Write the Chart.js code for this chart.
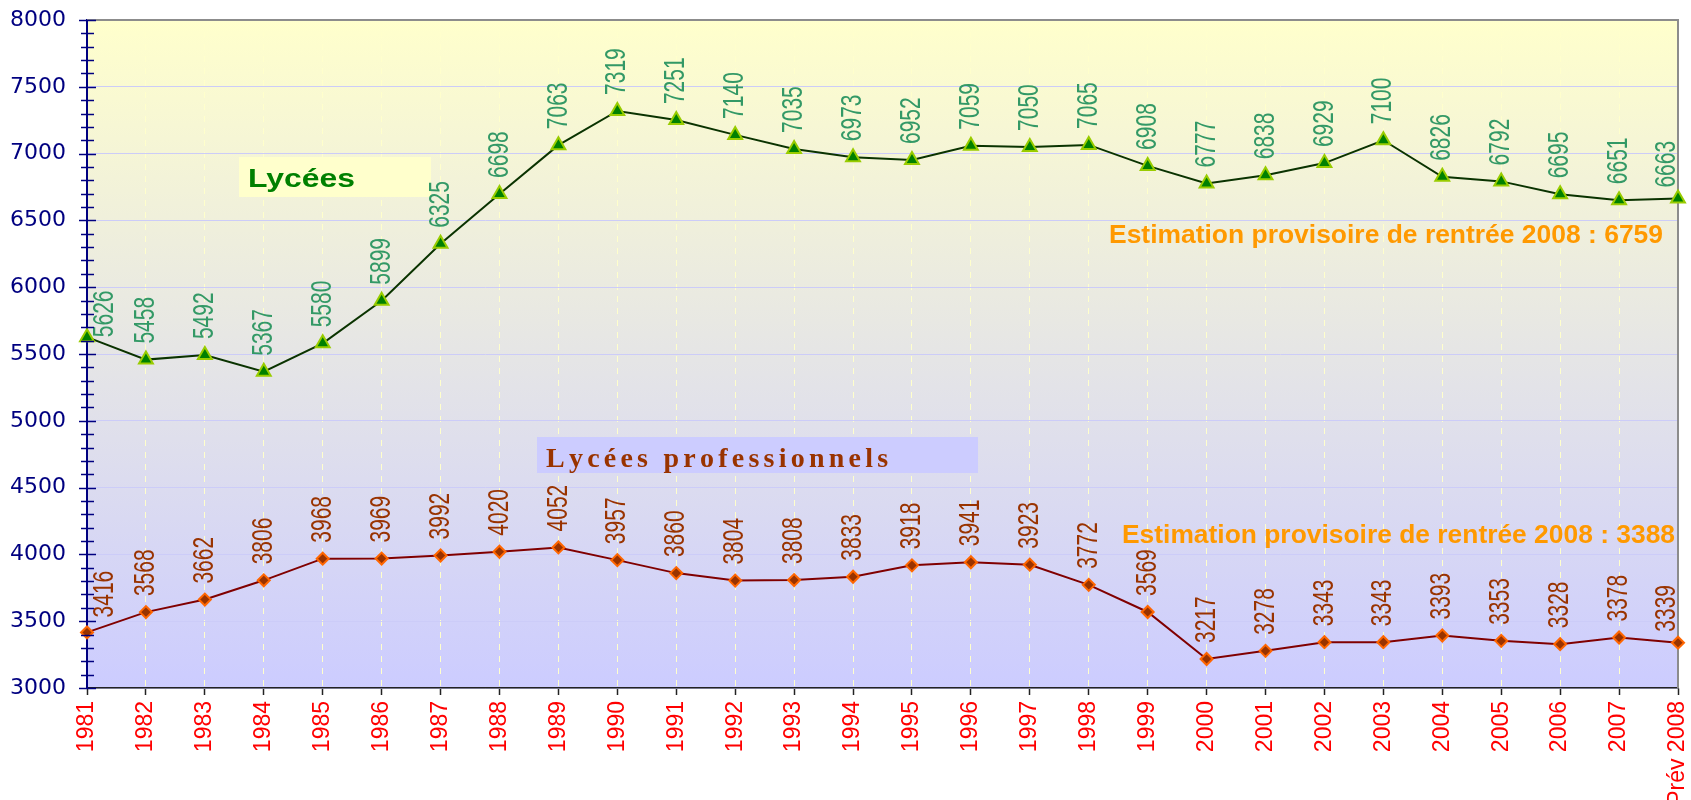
<!DOCTYPE html>
<html>
<head>
<meta charset="utf-8">
<script src="https://cdn.jsdelivr.net/npm/chart.js@4.4.1/dist/chart.umd.min.js"></script>
<style>
    html, body { margin: 0; padding: 0; background: #fff; }
    canvas { display: block; }
</style>
</head>
<body>
<canvas id="effectifs" width="1691" height="800"></canvas>
<script>
// Effectifs lycées / lycées professionnels 1981 - 2008

const years = ['1981', '1982', '1983', '1984', '1985', '1986', '1987', '1988', '1989', '1990',
    '1991', '1992', '1993', '1994', '1995', '1996', '1997', '1998', '1999', '2000',
    '2001', '2002', '2003', '2004', '2005', '2006', '2007', 'Prév 2008'];

const lycees = [5626, 5458, 5492, 5367, 5580, 5899, 6325, 6698, 7063, 7319,
    7251, 7140, 7035, 6973, 6952, 7059, 7050, 7065, 6908, 6777,
    6838, 6929, 7100, 6826, 6792, 6695, 6651, 6663];

const lyceesPro = [3416, 3568, 3662, 3806, 3968, 3969, 3992, 4020, 4052, 3957,
    3860, 3804, 3808, 3833, 3918, 3941, 3923, 3772, 3569, 3217,
    3278, 3343, 3343, 3393, 3353, 3328, 3378, 3339];

const yTicks = [3000, 3500, 4000, 4500, 5000, 5500, 6000, 6500, 7000, 7500, 8000];

const estimLycees = 'Estimation provisoire de rentrée 2008 : 6759';
const estimPro = 'Estimation provisoire de rentrée 2008 : 3388';

// draw text squeezed/stretched to a given width
function fitText(ctx, text, x, y, width) {
    const w = ctx.measureText(text).width;
    ctx.save();
    ctx.translate(x, y);
    ctx.scale(width / w, 1);
    ctx.fillText(text, 0, 0);
    ctx.restore();
}

// spaced letters (Excel text box look)
function spacedText(ctx, text, x, y, width) {
    const natural = ctx.measureText(text).width;
    const extra = (width - natural) / (text.length - 1);
    let cx = x;
    for (const ch of text) {
        ctx.fillText(ch, cx, y);
        cx += ctx.measureText(ch).width + extra;
    }
}

// Plot background gradient
const backgroundPlugin = {
    id: 'plotBackground',
    beforeDraw(chart) {
        const { ctx, chartArea: a } = chart;
        const g = ctx.createLinearGradient(0, a.top, 0, a.bottom);
        g.addColorStop(0, '#FFFFCC');
        g.addColorStop(1, '#CCCCFF');
        ctx.save();
        ctx.fillStyle = g;
        ctx.fillRect(a.left, a.top, a.right - a.left, a.bottom - a.top);
        ctx.restore();
    }
};

// Text boxes, estimations and frame
const annotationsPlugin = {
    id: 'annotations',
    beforeDatasetsDraw(chart) {
        const { ctx, chartArea: a } = chart;
        ctx.save();

        // frame top/right
        ctx.strokeStyle = '#8C8C8C';
        ctx.lineWidth = 2;
        ctx.beginPath();
        ctx.moveTo(a.left, a.top);
        ctx.lineTo(a.right, a.top);
        ctx.lineTo(a.right, a.bottom);
        ctx.stroke();

        ctx.textBaseline = 'alphabetic';
        ctx.textAlign = 'left';

        // Lycées box
        ctx.fillStyle = '#FFFFCC';
        ctx.fillRect(239, 157, 192, 40);
        ctx.fillStyle = '#008000';
        ctx.font = 'bold 26px Arial, "Liberation Sans", sans-serif';
        fitText(ctx, 'Lycées', 248, 187, 107);

        // Lycées professionnels box
        ctx.fillStyle = '#CCCCFF';
        ctx.fillRect(537, 437, 441, 36);
        ctx.fillStyle = '#993300';
        ctx.font = 'bold 28px "Times New Roman", "Liberation Serif", serif';
        spacedText(ctx, 'Lycées professionnels', 546, 467, 340);

        // Estimations
        ctx.fillStyle = '#FF9900';
        ctx.font = 'bold 25px Arial, "Liberation Sans", sans-serif';
        fitText(ctx, estimLycees, 1109, 243, 554);
        fitText(ctx, estimPro, 1122, 543, 553);

        ctx.restore();
    }
};

// Vertical value labels above each point
const valueLabelsPlugin = {
    id: 'valueLabels',
    afterDatasetsDraw(chart) {
        const { ctx } = chart;
        ctx.save();
        ctx.font = '21px Arial, "Liberation Sans", sans-serif';
        ctx.textAlign = 'left';
        ctx.textBaseline = 'middle';
        chart.data.datasets.forEach((ds, di) => {
            const meta = chart.getDatasetMeta(di);
            const last = meta.data.length - 1;
            ctx.fillStyle = ds.labelColor;
            meta.data.forEach((pt, i) => {
                let x = pt.x;
                let gap = 16;
                if (i === 0) { x += 18; gap = ds.firstGap; }
                if (i === last) { x -= 11; gap = 11; }
                ctx.save();
                ctx.translate(x, pt.y - gap);
                ctx.rotate(-Math.PI / 2);
                ctx.scale(1, 1.4);
                ctx.fillText(String(ds.data[i]), 0, 0);
                ctx.restore();
            });
        });
        ctx.restore();
    }
};

// Major / minor tick marks crossing the y axis
const yTickMarksPlugin = {
    id: 'yTickMarks',
    afterDraw(chart) {
        const { ctx, scales: { y } } = chart;
        const ax = chart.chartArea.left;
        ctx.save();
        ctx.strokeStyle = '#000080';
        ctx.lineWidth = 1.5;
        for (let v = y.min; v <= y.max; v += 100) {
            const py = Math.round(y.getPixelForValue(v)) + 0.5;
            const major = v % 500 === 0;
            ctx.beginPath();
            ctx.moveTo(ax - (major ? 8 : 6), py);
            ctx.lineTo(ax + (major ? 9 : 7), py);
            ctx.stroke();
        }
        ctx.restore();
    }
};

const chart = new Chart(document.getElementById('effectifs'), {
    type: 'line',
    data: {
        labels: years,
        datasets: [
            {
                label: 'Lycées',
                data: lycees,
                borderColor: '#0A3300',
                borderWidth: 2,
                pointStyle: 'triangle',
                pointRadius: 8,
                pointBackgroundColor: '#008000',
                pointBorderColor: '#99CC00',
                pointBorderWidth: 2,
                tension: 0,
                labelColor: '#339966',
                firstGap: 0
            },
            {
                label: 'Lycées professionnels',
                data: lyceesPro,
                borderColor: '#800000',
                borderWidth: 2,
                pointStyle: 'rectRot',
                pointRadius: 6,
                pointBackgroundColor: '#993300',
                pointBorderColor: '#FF6600',
                pointBorderWidth: 2,
                tension: 0,
                labelColor: '#993300',
                firstGap: 15
            }
        ]
    },
    options: {
        responsive: false,
        animation: false,
        layout: { padding: { top: 20, right: 13, left: 0, bottom: 0 } },
        plugins: {
            legend: { display: false },
            tooltip: { enabled: false }
        },
        scales: {
            x: {
                type: 'category',
                offset: false,
                afterFit(scale) {
                    scale.height = 112;
                    scale.paddingLeft = 0;
                    scale.paddingRight = 0;
                },
                grid: {
                    color: '#FFFFCC',
                    lineWidth: 1,
                    drawTicks: true,
                    tickLength: 7,
                    tickColor: '#222222',
                    tickWidth: 1.5,
                    tickBorderDash: []
                },
                border: { display: true, color: '#222222', width: 1.5, dash: [6, 6] },
                ticks: {
                    autoSkip: false,
                    maxRotation: 90,
                    minRotation: 90,
                    padding: 6,
                    color: '#FF0000',
                    font: { family: '"Liberation Sans Narrow", "Arial Narrow", Arial, sans-serif', size: 23 }
                }
            },
            y: {
                min: 3000,
                max: 8000,
                afterFit(scale) {
                    scale.width = 87;
                    scale.paddingTop = 0;
                    scale.paddingBottom = 0;
                },
                afterBuildTicks(scale) { scale.ticks = yTicks.map(v => ({ value: v })); },
                grid: {
                    color: '#CCCCF8',
                    lineWidth: 1,
                    drawTicks: false
                },
                border: { display: true, color: '#000080', width: 2 },
                ticks: {
                    padding: 21,
                    color: '#000080',
                    font: { family: '"DejaVu Sans", sans-serif', size: 22 },
                    callback: (v) => String(v)
                }
            }
        }
    },
    plugins: [backgroundPlugin, annotationsPlugin, valueLabelsPlugin, yTickMarksPlugin]
});
</script>
</body>
</html>
